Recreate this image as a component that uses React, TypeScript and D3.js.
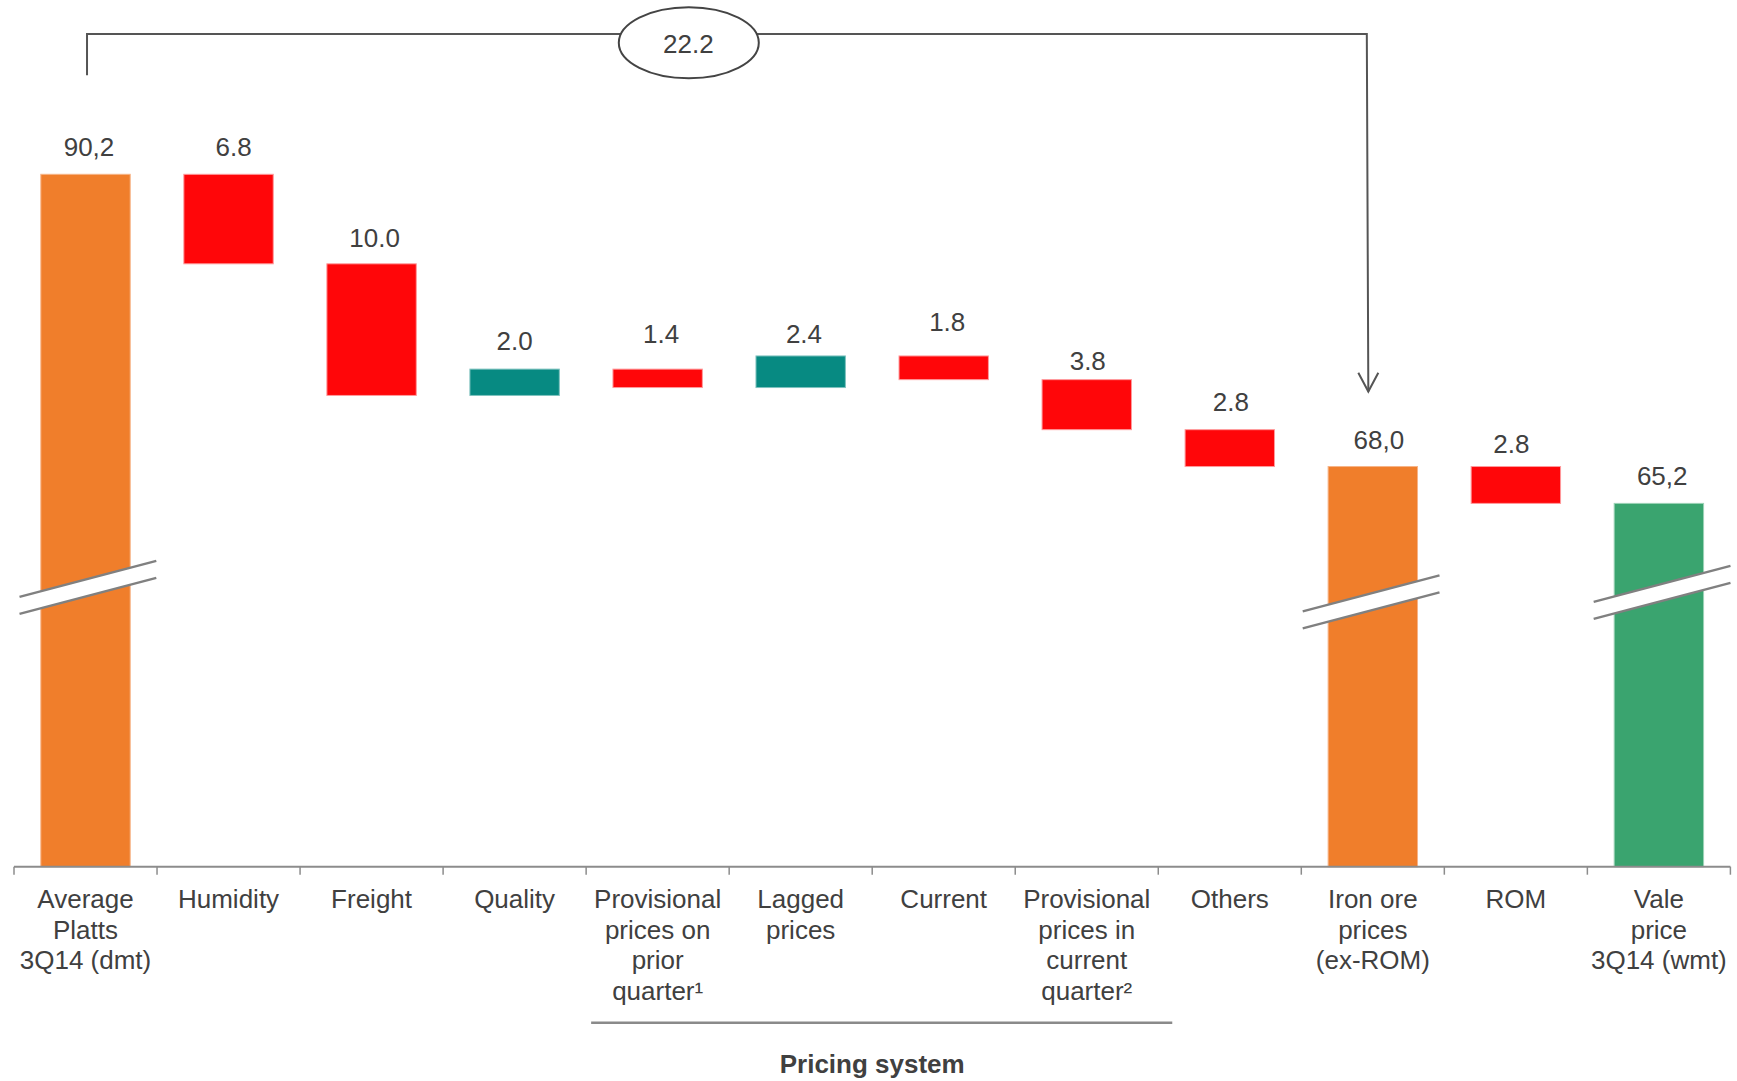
import React from "react";
import * as d3 from "d3";

// Waterfall: Platts reference price bridged to the realised Vale price, 3Q14 (US$/t)
const categories = [
  "Average Platts 3Q14 (dmt)",
  "Humidity",
  "Freight",
  "Quality",
  "Provisional prices on prior quarter",
  "Lagged prices",
  "Current",
  "Provisional prices in current quarter",
  "Others",
  "Iron ore prices (ex-ROM)",
  "ROM",
  "Vale price 3Q14 (wmt)",
];

const categoryLines = [
  ["Average", "Platts", "3Q14 (dmt)"],
  ["Humidity"],
  ["Freight"],
  ["Quality"],
  ["Provisional", "prices on", "prior", "quarter¹"],
  ["Lagged", "prices"],
  ["Current"],
  ["Provisional", "prices in", "current", "quarter²"],
  ["Others"],
  ["Iron ore", "prices", "(ex-ROM)"],
  ["ROM"],
  ["Vale", "price", "3Q14 (wmt)"],
];

// "total" bars stand on the axis, "delta" bars float between running totals
const kinds = ["total", "delta", "delta", "delta", "delta", "delta", "delta", "delta", "delta", "total", "delta", "total"];
const values = [90.2, -6.8, -10.0, 2.0, -1.4, 2.4, -1.8, -3.8, -2.8, 68.0, -2.8, 65.2];
const valueLabels = ["90,2", "6.8", "10.0", "2.0", "1.4", "2.4", "1.8", "3.8", "2.8", "68,0", "2.8", "65,2"];

const bridgeLabel = "22.2";
const groupTitle = "Pricing system";

// layout
const W = 1737;
const H = 1081;
const AXIS_Y = 866.7;
const TOP_Y = 174.3;
const FLOOR = 37.6; // value where the broken axis meets the baseline
const FONT = "'Liberation Sans', Arial, Helvetica, sans-serif";
const TEXT = "#404040";

const labelDx = [0.5, 2, 0, -3, 0.5, 0.3, 0.5, -2, -2, 3, -7.4, 0.3];
const labelDy = [0, 0, 0.7, -1, -8, 4.7, -7, 8, -0.6, 0, 4, 0];

const breaks = [
  { index: 0, dx: 2.4, y: 578.9 },
  { index: 9, dx: -1.7, y: 593.4 },
  { index: 11, dx: 3.2, y: 583.9 },
];

const COLORS = {
  total: "#F07E2B",
  final: "#3AA46F",
  neg: "#FF0609",
  pos: "#078A82",
};
const EDGE = {
  total: "#F7B487",
  final: "#9CD2B6",
  neg: "#FF9A9C",
  pos: "#7FC2BE",
};

type Bar = { i: number; top: number; bottom: number; color: string; edge: string };

export default function App() {
  const x = d3
    .scaleBand<string>()
    .domain(categories)
    .range([14, 1730.4])
    .paddingInner(0.375)
    .paddingOuter(0.1875);
  const y = d3.scaleLinear().domain([FLOOR, 90.2]).range([AXIS_Y, TOP_Y]);

  const step = x.step();
  const bw = x.bandwidth();
  const center = (i: number) => (x(categories[i]) as number) + bw / 2;
  const boundary = (i: number) => x.range()[0] + i * step;

  // running totals
  let running = 0;
  const bars: Bar[] = values.map((v, i) => {
    if (kinds[i] === "total") {
      running = v;
      const isFinal = i === values.length - 1;
      return {
        i,
        top: y(v),
        bottom: y(FLOOR),
        color: isFinal ? COLORS.final : COLORS.total,
        edge: isFinal ? EDGE.final : EDGE.total,
      };
    }
    const start = running;
    const end = running + v;
    running = end;
    return {
      i,
      top: y(Math.max(start, end)),
      bottom: y(Math.min(start, end)),
      color: v < 0 ? COLORS.neg : COLORS.pos,
      edge: v < 0 ? EDGE.neg : EDGE.pos,
    };
  });

  // bracket from the starting price to the ex-ROM price
  const bracketY = 34;
  const leftX = center(0) + 1.5;
  const rightX = center(9) - 6;
  const arrowTip = y(values[9]) - 75;

  const slope = 0.263;
  const half = 68.4;
  const gap = 17;

  return (
    <svg
      width={W}
      height={H}
      viewBox={`0 0 ${W} ${H}`}
      style={{ position: "fixed", left: 0, top: 0, background: "#fff" }}
      fontFamily={FONT}
    >
      <rect x={0} y={0} width={W} height={H} fill="#fff" />

      {/* bars */}
      {bars.map((b) => (
        <rect
          key={b.i}
          x={x(categories[b.i])}
          y={b.top}
          width={bw}
          height={b.bottom - b.top}
          fill={b.color}
          stroke={b.edge}
          strokeWidth={1}
        />
      ))}

      {/* axis breaks */}
      {breaks.map((br) => {
        const cx = center(br.index) + br.dx;
        const x0 = cx - half;
        const x1 = cx + half;
        const y0 = br.y + half * slope;
        const y1 = br.y - half * slope;
        return (
          <g key={br.index}>
            <polygon points={`${x0},${y0} ${x1},${y1} ${x1},${y1 + gap} ${x0},${y0 + gap}`} fill="#fff" />
            <line x1={x0} y1={y0} x2={x1} y2={y1} stroke="#808080" strokeWidth={2.5} />
            <line x1={x0} y1={y0 + gap} x2={x1} y2={y1 + gap} stroke="#808080" strokeWidth={2.5} />
          </g>
        );
      })}

      {/* axis */}
      <line x1={x.range()[0]} x2={x.range()[1]} y1={AXIS_Y} y2={AXIS_Y} stroke="#8c8c8c" strokeWidth={2} />
      {d3.range(categories.length + 1).map((i) => (
        <line
          key={i}
          x1={boundary(i)}
          x2={boundary(i)}
          y1={AXIS_Y}
          y2={AXIS_Y + 8}
          stroke="#8c8c8c"
          strokeWidth={1.5}
        />
      ))}

      {/* value labels */}
      {bars.map((b) => (
        <text
          key={b.i}
          x={center(b.i) + 3 + labelDx[b.i]}
          y={b.top - 18 + labelDy[b.i]}
          textAnchor="middle"
          fontSize={26}
          fill={TEXT}
        >
          {valueLabels[b.i]}
        </text>
      ))}

      {/* category labels */}
      {categoryLines.map((lines, i) => (
        <text key={i} x={center(i)} y={908.3} textAnchor="middle" fontSize={26} fill={TEXT}>
          {lines.map((ln, k) => (
            <tspan key={k} x={center(i)} dy={k === 0 ? 0 : 30.4}>
              {ln}
            </tspan>
          ))}
        </text>
      ))}

      {/* pricing system group */}
      <line
        x1={boundary(4) + 5}
        x2={boundary(8) + 14}
        y1={1022.7}
        y2={1022.7}
        stroke="#8a8a8a"
        strokeWidth={2.5}
      />
      <text
        x={(boundary(4) + boundary(8)) / 2}
        y={1073.3}
        textAnchor="middle"
        fontSize={26}
        fontWeight="bold"
        fill={TEXT}
      >
        {groupTitle}
      </text>

      {/* bridge bracket */}
      <path
        d={`M${leftX},75.3 L${leftX},${bracketY} L${rightX},${bracketY} L${rightX + 1.5},${arrowTip}`}
        fill="none"
        stroke="#555"
        strokeWidth={2}
      />
      <path
        d={`M${rightX + 1.5 - 10},${arrowTip - 18.7} L${rightX + 1.5},${arrowTip} L${rightX + 1.5 + 10},${arrowTip - 18.7}`}
        fill="none"
        stroke="#555"
        strokeWidth={2}
      />
      <ellipse cx={688.8} cy={42.8} rx={70} ry={35.5} fill="#fff" stroke="#444" strokeWidth={2} />
      <text x={688.4} y={52.7} textAnchor="middle" fontSize={26} fill={TEXT}>
        {bridgeLabel}
      </text>
    </svg>
  );
}
